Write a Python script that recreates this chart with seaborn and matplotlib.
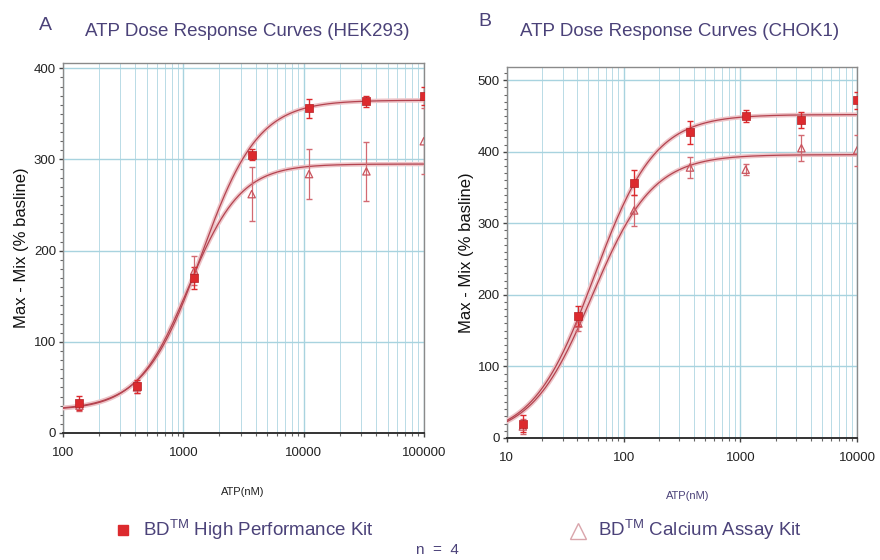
import numpy as np
import matplotlib
matplotlib.use("Agg")
import matplotlib.pyplot as plt
from matplotlib.lines import Line2D
from matplotlib.ticker import LogLocator, MultipleLocator, FixedLocator
import seaborn as sns

# ATP concentrations (nM), 3-fold dilutions
hek_atp = [137, 412, 1235, 3704, 11111, 33333, 100000]
cho_atp = [13.7, 41, 123, 370, 1111, 3333, 10000]

# HEK293 means / errors
hek_hp = [33, 51, 170, 305, 356, 364, 370]
hek_hp_err = [8, 7, 12, 6, 10, 6, 10]
hek_ca = [30, 50, 178, 262, 284, 287, 320]
hek_ca_err = [6, 6, 16, 30, 27, 32, 36]

# CHOK1 means / errors
cho_hp = [20, 170, 357, 427, 450, 444, 472]
cho_hp_err = [12, 14, 18, 16, 9, 11, 12]
cho_ca = [16, 160, 318, 378, 375, 405, 402]
cho_ca_err = [10, 10, 22, 14, 8, 18, 22]

# fitted 4-parameter logistic: bottom, top, EC50, hill (estimated from the drawn curves)
hek_hp_fit = (25, 365, 1410, 1.83)
hek_ca_fit = (25, 295, 1107, 2.0)
cho_hp_fit = (0, 452, 56, 1.66)
cho_ca_fit = (0, 396, 53.5, 1.67)

purple = "#4b4279"
red = "#dc2a2e"
pink = "#d9a5ab"
grid_c = "#a8d3df"

sns.set_theme(style="white")
plt.rcParams["font.family"] = ["Liberation Sans", "DejaVu Sans"]


def logistic(x, p):
    b, t, ec, h = p
    return b + (t - b) / (1 + (ec / x) ** h)


def panel(ax, xs, hp, hp_err, ca, ca_err, hp_fit, ca_fit, xlim, ylim, yticks, xlabels):
    ax.set_xscale("log")
    ax.set_xlim(*xlim)
    ax.set_ylim(*ylim)
    xx = np.logspace(np.log10(xlim[0]), np.log10(xlim[1]), 300)
    for fit in (hp_fit, ca_fit):
        yy = logistic(xx, fit)
        sns.lineplot(x=xx, y=yy, ax=ax, color="#edc4c8", lw=3.2, zorder=3)
        sns.lineplot(x=xx, y=yy, ax=ax, color="#b4434f", lw=0.9, zorder=4)
    ax.errorbar(xs, ca, yerr=ca_err, fmt="none", ecolor="#d26a72", elinewidth=0.9,
                capsize=2.5, zorder=5)
    ax.errorbar(xs, hp, yerr=hp_err, fmt="none", ecolor=red, elinewidth=1.0,
                capsize=2.5, zorder=6)
    sns.scatterplot(x=xs, y=ca, ax=ax, marker="^", s=28, facecolor="none",
                    edgecolor="#c9545e", linewidth=0.9, zorder=7)
    sns.scatterplot(x=xs, y=hp, ax=ax, marker="s", s=40, color=red,
                    edgecolor="#b51f24", linewidth=0.5, zorder=8)

    ax.xaxis.set_major_locator(LogLocator(base=10))
    ax.xaxis.set_minor_locator(LogLocator(base=10, subs=np.arange(2, 10)))
    ax.set_xticks(xlabels)
    ax.set_xticklabels([str(v) for v in xlabels])
    ax.yaxis.set_major_locator(FixedLocator(yticks))
    ax.yaxis.set_minor_locator(MultipleLocator(10))
    ax.grid(True, which="major", color=grid_c, lw=1.0, zorder=0)
    ax.grid(True, which="minor", axis="x", color=grid_c, lw=0.7, alpha=0.8, zorder=0)
    ax.set_axisbelow(True)
    for s in ax.spines.values():
        s.set_visible(True)
        s.set_color("#8a8a8a")
        s.set_linewidth(1.0)
    ax.spines["bottom"].set_color("#333333")
    ax.spines["bottom"].set_linewidth(1.4)
    ax.tick_params(axis="both", which="major", direction="out", length=3, width=1,
                   color="#444444", labelsize=9.5, labelcolor="#222222", pad=2,
                   bottom=True, left=True)
    ax.tick_params(axis="both", which="minor", direction="out", length=2, width=0.8,
                   color="#666666", bottom=True, left=True)
    ax.tick_params(axis="x", which="major", pad=7)
    ax.set_xlabel("")
    ax.set_ylabel("Max - Mix (% basline)", fontsize=12, color="#111111")


fig = plt.figure(figsize=(8.8, 5.6), dpi=100)
ax1 = fig.add_axes([0.0716, 0.2268, 0.410, 0.661])
ax2 = fig.add_axes([0.576, 0.218, 0.398, 0.663])

panel(ax1, hek_atp, hek_hp, hek_hp_err, hek_ca, hek_ca_err, hek_hp_fit, hek_ca_fit,
      (100, 100000), (0, 406), [0, 100, 200, 300, 400], [100, 1000, 10000, 100000])
panel(ax2, cho_atp, cho_hp, cho_hp_err, cho_ca, cho_ca_err, cho_hp_fit, cho_ca_fit,
      (10, 10000), (0, 519), [0, 100, 200, 300, 400, 500], [10, 100, 1000, 10000])
ax1.yaxis.set_label_coords(-0.095, 0.5)
ax2.yaxis.set_label_coords(-0.095, 0.5)

# titles and panel letters
fig.text(45 / 880, 1 - 25 / 560, "A", fontsize=14, color=purple, ha="center", va="center")
fig.text(247 / 880, 1 - 32 / 560, "ATP Dose Response Curves (HEK293)", fontsize=13.5,
         color=purple, ha="center", va="center")
fig.text(485 / 880, 1 - 22 / 560, "B", fontsize=14, color=purple, ha="center", va="center")
fig.text(680 / 880, 1 - 31 / 560, "ATP Dose Response Curves (CHOK1)", fontsize=13.5,
         color=purple, ha="center", va="center")

# x labels
fig.text(243 / 880, 1 - 492 / 560, "ATP(nM)", fontsize=8, color="#222222", ha="center", va="center")
fig.text(688 / 880, 1 - 496 / 560, "ATP(nM)", fontsize=8, color=purple, ha="center", va="center")

# legend
fig.add_artist(Line2D([123 / 880], [1 - 530 / 560], marker="s", markersize=7, color=red,
                      linestyle="none", transform=fig.transFigure))
fig.text(143 / 880, 1 - 530 / 560, r"BD$^{\mathregular{TM}}$ High Performance Kit",
         fontsize=13.5, color=purple, ha="left", va="center")
fig.add_artist(Line2D([578 / 880], [1 - 531 / 560], marker="^", markersize=11,
                      markerfacecolor="none", markeredgecolor=pink, linestyle="none",
                      transform=fig.transFigure))
fig.text(598 / 880, 1 - 530 / 560, r"BD$^{\mathregular{TM}}$ Calcium Assay Kit",
         fontsize=13.5, color=purple, ha="left", va="center")
fig.text(437 / 880, 1 - 550 / 560, "n  =  4", fontsize=11, color=purple, ha="center", va="center")

fig.savefig("out.png", dpi=100, facecolor="white")
